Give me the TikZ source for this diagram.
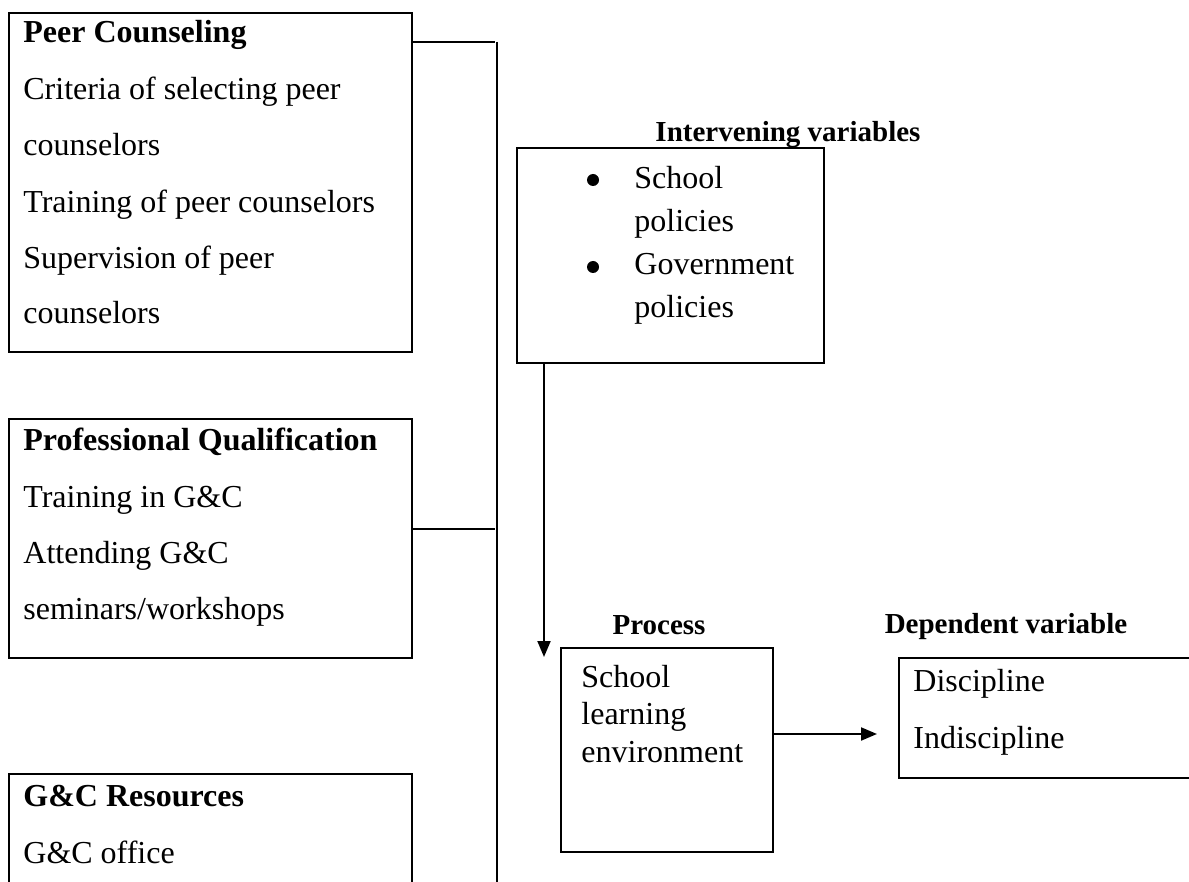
\documentclass[tikz,border=0pt]{standalone}
\usepackage{fontspec}
\setmainfont{Liberation Serif}
\usetikzlibrary{arrows.meta,fit}
\begin{document}
\begin{tikzpicture}[x=0.5pt,y=-0.5pt,
  box/.style={draw,line width=1pt,inner sep=0pt},
  conn/.style={line width=0.8pt},
  arr/.style={line width=1pt,-{Triangle[length=8pt,width=6.5pt]}},
  txt/.style={anchor=base west,inner sep=0pt,font=\fontsize{16pt}{19pt}\selectfont},
  head/.style={txt,font=\fontsize{16pt}{19pt}\selectfont\bfseries},
  lbl/.style={anchor=base,inner sep=0pt,font=\fontsize{14.5pt}{17pt}\selectfont\bfseries},
  dot/.style={circle,fill,inner sep=0pt,minimum size=6pt}]
\path[use as bounding box, clip] (0,0) rectangle (1189,882);

% boxes
\node[box, fit={(9,13) (412,352)}] (peer) {};
\node[box, fit={(9,419) (412,658)}] (prof) {};
\node[box, fit={(9,774) (412,1000)}] (res) {};
\node[box, fit={(517,148) (824,363)}] (inter) {};
\node[box, fit={(561,648) (773,852)}] (proc) {};
\node[box, fit={(899,658) (1260,778)}] (dep) {};

% peer counseling text
\node[head] (p0) at (23,43) {Peer Counseling};
\node[txt] (p1) at (23,100) {Criteria of selecting peer};
\node[txt] (p2) at (23,156) {counselors};
\node[txt] (p3) at (23,213) {Training of peer counselors};
\node[txt] (p4) at (23,269) {Supervision of peer};
\node[txt] (p5) at (23,324) {counselors};

% professional qualification text
\node[head] (q0) at (23,450) {Professional Qualification};
\node[txt] (q1) at (23,507) {Training in G\&C};
\node[txt] (q2) at (23,563) {Attending G\&C};
\node[txt] (q3) at (23,619) {seminars/workshops};

% resources text
\node[head] (r0) at (23,806) {G\&C Resources};
\node[txt] (r1) at (23,863) {G\&C office};

% intervening
\node[lbl] (ilbl) at (788,142) {Intervening variables};
\node[dot] (b1) at (593,180) {};
\node[dot] (b2) at (593,267) {};
\node[txt] (i1) at (634,189) {School};
\node[txt] (i2) at (634,232) {policies};
\node[txt] (i3) at (634,275) {Government};
\node[txt] (i4) at (634,318) {policies};

% process
\node[lbl] (plbl) at (659,634) {Process};
\node[txt] (s1) at (581,687) {School};
\node[txt] (s2) at (581,724) {learning};
\node[txt] (s3) at (581,762) {environment};

% dependent
\node[lbl] (dlbl) at (1006,633) {Dependent variable};
\node[txt] (d1) at (913,691) {Discipline};
\node[txt] (d2) at (913,748) {Indiscipline};

% connectors
\coordinate (j1) at (497,42);
\coordinate (j2) at (495,529);
\coordinate (jb) at (497,882);
\coordinate (j1e) at (495,42);
\draw[conn] (peer.east |- j1) -- (j1e);
\draw[conn] (j1) -- (jb);
\draw[conn] (prof.east |- j2) -- (j2);

\coordinate (tipP) at (544,657);
\draw[arr] (inter.south -| tipP) -- (tipP);
\coordinate (tipD) at (877,734);
\draw[arr] (proc.east |- tipD) -- (tipD);
\end{tikzpicture}
\end{document}
